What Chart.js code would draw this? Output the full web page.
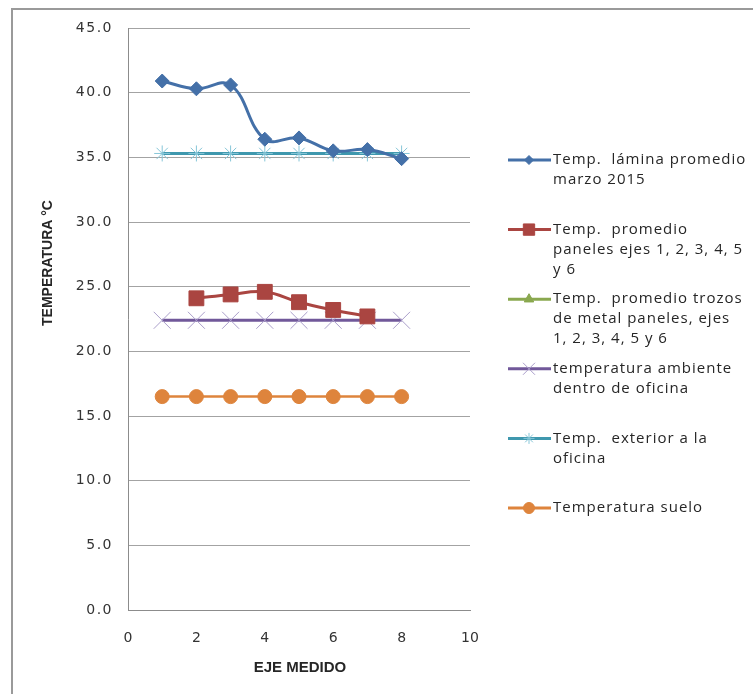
<!DOCTYPE html>
<html>
<head>
<meta charset="utf-8">
<script src="https://cdn.jsdelivr.net/npm/chart.js@4.4.1/dist/chart.umd.min.js"></script>
<style>
  html, body { margin: 0; padding: 0; background: #fff; }
  canvas { display: block; }
</style>
</head>
<body>
<canvas id="grafico" width="753" height="694"></canvas>
<script>
// Ejes medidos (eje X)
const ejes = [1, 2, 3, 4, 5, 6, 7, 8];

// Temperaturas por serie (°C)
const laminaMarzo      = [40.9, 40.3, 40.6, 36.4, 36.5, 35.5, 35.6, 34.9];
const panelesEjes      = [null, 24.1, 24.4, 24.6, 23.8, 23.2, 22.7, null];
const trozosMetal      = [null, null, null, null, null, null, null, null];
const ambienteOficina  = [22.4, 22.4, 22.4, 22.4, 22.4, 22.4, 22.4, 22.4];
const exteriorOficina  = [35.3, 35.3, 35.3, 35.3, 35.3, 35.3, 35.3, 35.3];
const sueloTemp        = [16.5, 16.5, 16.5, 16.5, 16.5, 16.5, 16.5, 16.5];

// Nombres de las series, con sus saltos de línea
const nombresSeries = [
  ['Temp.  lámina promedio', 'marzo 2015'],
  ['Temp.  promedio', 'paneles ejes 1, 2, 3, 4, 5', 'y 6'],
  ['Temp.  promedio trozos', 'de metal paneles, ejes', '1, 2, 3, 4, 5 y 6'],
  ['temperatura ambiente', 'dentro de oficina'],
  ['Temp.  exterior a la', 'oficina'],
  ['Temperatura suelo']
];

const tituloY = 'TEMPERATURA °C';
const tituloX = 'EJE MEDIDO';

const puntos = (valores) => ejes.map((x, i) => ({ x: x, y: valores[i] }));

// Tamaño del marcador en la leyenda
const leyendaRadio = [4.5, 8, 5.5, 8.5, 5.5, 5.5];

const datasets = [
  {
    label: nombresSeries[0].join(' '),
    data: puntos(laminaMarzo),
    borderColor: '#4470a8', backgroundColor: '#4470a8',
    borderWidth: 3, tension: 0.4,
    pointStyle: 'rectRot', pointRadius: 7,
    pointBackgroundColor: '#4470a8', pointBorderColor: '#4470a8', pointBorderWidth: 1
  },
  {
    label: nombresSeries[1].join(' '),
    data: puntos(panelesEjes),
    borderColor: '#aa4541', backgroundColor: '#aa4541',
    borderWidth: 3, tension: 0.4,
    pointStyle: 'rect', pointRadius: 10.5,
    pointBackgroundColor: '#aa4541', pointBorderColor: '#aa4541', pointBorderWidth: 1
  },
  {
    label: nombresSeries[2].join(' '),
    data: puntos(trozosMetal),
    borderColor: '#8aa84f', backgroundColor: '#8aa84f',
    borderWidth: 3, tension: 0.4,
    pointStyle: 'triangle', pointRadius: 7,
    pointBackgroundColor: '#8aa84f', pointBorderColor: '#8aa84f', pointBorderWidth: 1
  },
  {
    label: nombresSeries[3].join(' '),
    data: puntos(ambienteOficina),
    borderColor: '#71589a', backgroundColor: '#71589a',
    borderWidth: 3, tension: 0,
    pointStyle: 'crossRot', pointRadius: 12,
    pointBackgroundColor: '#ab9fcb', pointBorderColor: '#ab9fcb', pointBorderWidth: 1
  },
  {
    label: nombresSeries[4].join(' '),
    data: puntos(exteriorOficina),
    borderColor: '#3f98ae', backgroundColor: '#3f98ae',
    borderWidth: 3, tension: 0,
    pointStyle: 'star', pointRadius: 8,
    pointBackgroundColor: '#86c6d8', pointBorderColor: '#86c6d8', pointBorderWidth: 1
  },
  {
    label: nombresSeries[5].join(' '),
    data: puntos(sueloTemp),
    borderColor: '#de843c', backgroundColor: '#de843c',
    borderWidth: 2.5, tension: 0,
    pointStyle: 'circle', pointRadius: 7,
    pointBackgroundColor: '#de843c', pointBorderColor: '#de843c', pointBorderWidth: 1
  }
];

// Marco exterior, títulos de ejes y leyenda con texto en varias líneas
const decoracion = {
  id: 'decoracion',
  beforeDraw(chart) {
    const ctx = chart.ctx;
    ctx.save();
    ctx.fillStyle = '#ffffff';
    ctx.fillRect(0, 0, chart.width, chart.height);
    ctx.strokeStyle = '#9a9a9a';
    ctx.lineWidth = 2;
    ctx.beginPath();
    ctx.moveTo(12, chart.height);
    ctx.lineTo(12, 9);
    ctx.lineTo(chart.width, 9);
    ctx.stroke();
    ctx.restore();
  },
  afterDraw(chart) {
    const ctx = chart.ctx;
    ctx.save();
    ctx.fillStyle = '#262626';
    ctx.textAlign = 'center';
    ctx.textBaseline = 'middle';

    // Título eje Y
    ctx.font = 'bold 14px "Liberation Sans", Arial, sans-serif';
    ctx.save();
    ctx.translate(48, 263);
    ctx.rotate(-Math.PI / 2);
    ctx.fillText(tituloY, 0, 0);
    ctx.restore();

    // Título eje X
    ctx.font = 'bold 15px "Liberation Sans", Arial, sans-serif';
    ctx.fillText(tituloX, 300, 668);

    // Leyenda
    const x0 = 508, x1 = 551, xm = 529, xt = 553;
    const inicio = 160, paso = 69.6, interlinea = 20;
    ctx.textAlign = 'left';
    ctx.font = '15px "Open Sans", sans-serif';
    try { ctx.letterSpacing = '1px'; } catch (e) {}
    chart.data.datasets.forEach((ds, i) => {
      const y = inicio + i * paso;
      ctx.save();
      ctx.strokeStyle = ds.borderColor;
      ctx.lineWidth = 3;
      ctx.beginPath();
      ctx.moveTo(x0, y);
      ctx.lineTo(x1, y);
      ctx.stroke();
      ctx.fillStyle = ds.pointBackgroundColor;
      ctx.strokeStyle = ds.pointBorderColor;
      ctx.lineWidth = 1;
      Chart.helpers.drawPoint(ctx, {
        pointStyle: ds.pointStyle,
        radius: leyendaRadio[i],
        rotation: 0,
        borderWidth: 1
      }, xm, y);
      ctx.restore();
      nombresSeries[i].forEach((linea, k) => {
        ctx.fillText(linea, xt, y + k * interlinea);
      });
    });
    ctx.restore();
  }
};

// Etiquetas del eje Y con un espaciado algo más ancho
function espaciarEtiquetas(scale) {
  if (scale._espaciado) return;
  const original = scale.drawLabels;
  scale.drawLabels = function (area) {
    const c = this.ctx;
    c.save();
    try { c.letterSpacing = '1.5px'; } catch (e) {}
    original.call(this, area);
    c.restore();
  };
  scale._espaciado = true;
}

new Chart(document.getElementById('grafico'), {
  type: 'line',
  data: { datasets: datasets },
  options: {
    responsive: false,
    animation: false,
    devicePixelRatio: 1,
    layout: { padding: { left: 0, right: 283, top: 28, bottom: 0 } },
    plugins: {
      legend: { display: false },
      tooltip: { enabled: false }
    },
    scales: {
      x: {
        type: 'linear',
        min: 0, max: 10,
        ticks: {
          stepSize: 2,
          color: '#333',
          font: { family: '"DejaVu Sans", Verdana, sans-serif', size: 14 },
          padding: 20
        },
        grid: { display: false, drawTicks: false },
        border: { display: true, color: '#8c8c8c', width: 1 },
        afterFit(scale) { scale.height = 84; }
      },
      y: {
        min: 0, max: 45,
        ticks: {
          stepSize: 5,
          color: '#333',
          font: { family: '"DejaVu Sans", Verdana, sans-serif', size: 14 },
          padding: 15,
          callback: (v) => Number(v).toFixed(1)
        },
        grid: { color: '#a3a3a3', lineWidth: 1, drawTicks: false },
        border: { display: true, color: '#8c8c8c', width: 1 },
        afterFit(scale) { scale.width = 128; espaciarEtiquetas(scale); }
      }
    },
    elements: { line: { fill: false } }
  },
  plugins: [decoracion]
});
</script>
</body>
</html>
